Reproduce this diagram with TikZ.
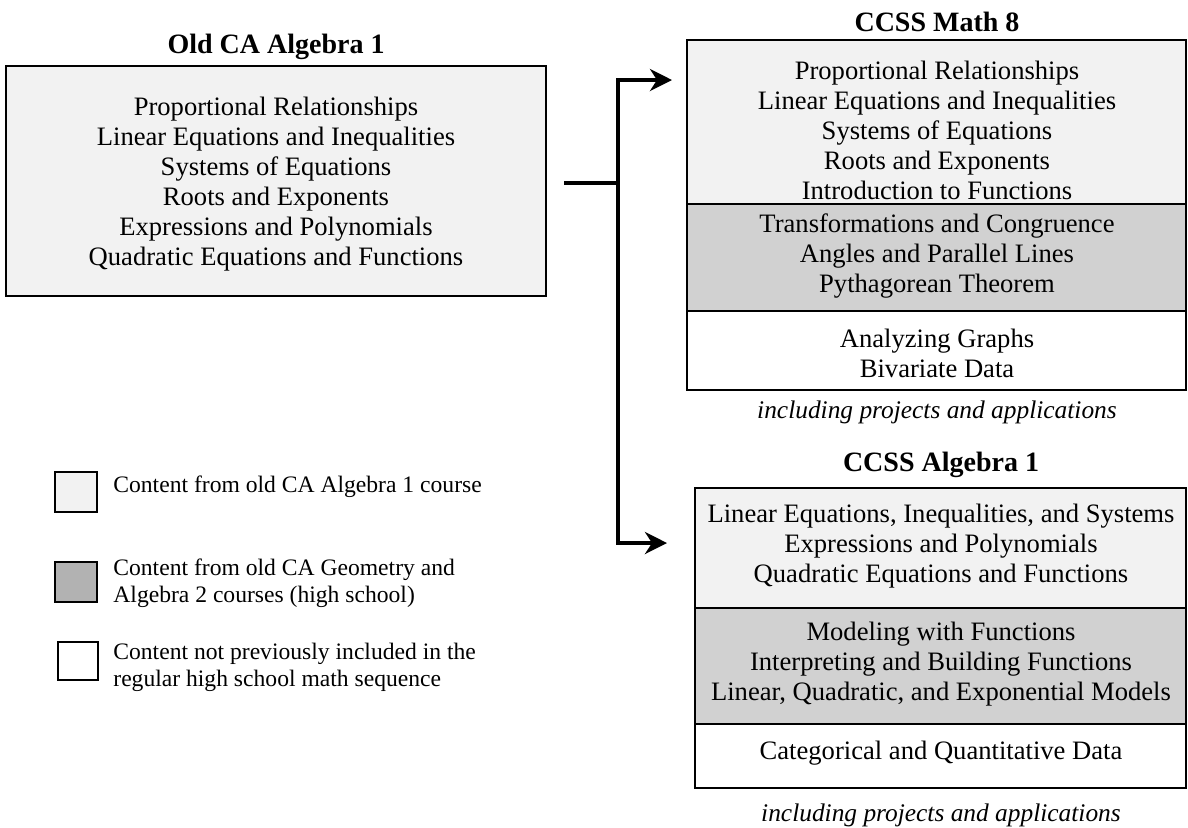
\documentclass[tikz,border=0pt]{standalone}
\usepackage{fontspec}
\setmainfont{Liberation Serif}
\usetikzlibrary{arrows.meta}

\colorlet{oldalg}{black!5}
\colorlet{hsgeo}{black!18}

\tikzset{
    topic/.style={align=center, inner sep=0pt, font=\fontsize{13.3}{15}\selectfont},
    heading/.style={inner sep=0pt, font=\fontsize{14}{16}\selectfont\bfseries},
    remark/.style={inner sep=0pt, font=\fontsize{12.7}{15}\selectfont\itshape},
    keytext/.style={align=left, anchor=west, inner sep=0pt, font=\fontsize{11.8}{13.5}\selectfont},
    frame/.style={line width=1.2pt},
    trunk/.style={line width=2pt},
    flow/.style={line width=2pt, -{Stealth[length=11pt,width=11pt,inset=3.5pt]}}
}

\begin{document}
\begin{tikzpicture}[x=0.5pt,y=-0.5pt]
        \fill[white] (0,0) rectangle (1188,827);
        \useasboundingbox (0,0) rectangle (1188,827);

        % old course
        \fill[oldalg] (6,66) rectangle (546,296);
        \draw[frame] (6,66) rectangle (546,296);
        \node[heading] (oldtitle) at (276,47) {Old CA Algebra 1};
        \node[topic] (oldlist) at (276,184) {Proportional Relationships\\Linear Equations and Inequalities\\Systems of Equations\\Roots and Exponents\\Expressions and Polynomials\\Quadratic Equations and Functions};

        % math 8
        \fill[oldalg] (687,40) rectangle (1186,204);
        \fill[hsgeo] (687,204) rectangle (1186,311);
        \draw[frame] (687,40) rectangle (1186,390);
        \foreach \y in {204,311}
            \draw[frame] (687,\y) -- (1186,\y);
        \node[heading] (mathtitle) at (937,22) {CCSS Math 8};
        \node[topic] (mathold) at (937,130) {Proportional Relationships\\Linear Equations and Inequalities\\Systems of Equations\\Roots and Exponents\\Introduction to Functions};
        \node[topic] (mathgeo) at (937,256) {Transformations and Congruence\\Angles and Parallel Lines\\Pythagorean Theorem};
        \node[topic] (mathnew) at (937,353.5) {Analyzing Graphs\\Bivariate Data};
        \node[remark] (mathnote) at (937,412) {including projects and applications};

        % algebra 1
        \fill[oldalg] (695,488) rectangle (1186,608);
        \fill[hsgeo] (695,608) rectangle (1186,724);
        \draw[frame] (695,488) rectangle (1186,788);
        \foreach \y in {608,724}
            \draw[frame] (695,\y) -- (1186,\y);
        \node[heading] (algtitle) at (941,465) {CCSS Algebra 1};
        \node[topic] (algold) at (941,546) {Linear Equations, Inequalities, and Systems\\Expressions and Polynomials\\Quadratic Equations and Functions};
        \node[topic] (alggeo) at (941,664) {Modeling with Functions\\Interpreting and Building Functions\\Linear, Quadratic, and Exponential Models};
        \node[topic] (algnew) at (941,753) {Categorical and Quantitative Data};
        \node[remark] (algnote) at (941,815) {including projects and applications};

        % split
        \coordinate (oldedge) at (546,183);
        \coordinate (fork) at (618,183);
        \coordinate (mathin) at (687,80);
        \coordinate (algin) at (695,543);
        \draw[trunk,shorten <=9pt] (oldedge) -- (fork);
        \draw[flow,shorten >=7.5pt] (fork) |- (mathin);
        \draw[flow,shorten >=14pt] (fork) |- (algin);

        % key
        \filldraw[frame,fill=oldalg] (55,472) rectangle (97,512);
        \filldraw[frame,fill=black!30] (55,562) rectangle (97,602);
        \draw[frame] (58,642) rectangle (98,680);
        \node[keytext] (keyold) at (113,487) {Content from old CA Algebra 1 course};
        \node[keytext] (keygeo) at (113,583.5) {Content from old CA Geometry and\\Algebra 2 courses (high school)};
        \node[keytext] (keynew) at (113,667.5) {Content not previously included in the\\regular high school math sequence};
\end{tikzpicture}
\end{document}
